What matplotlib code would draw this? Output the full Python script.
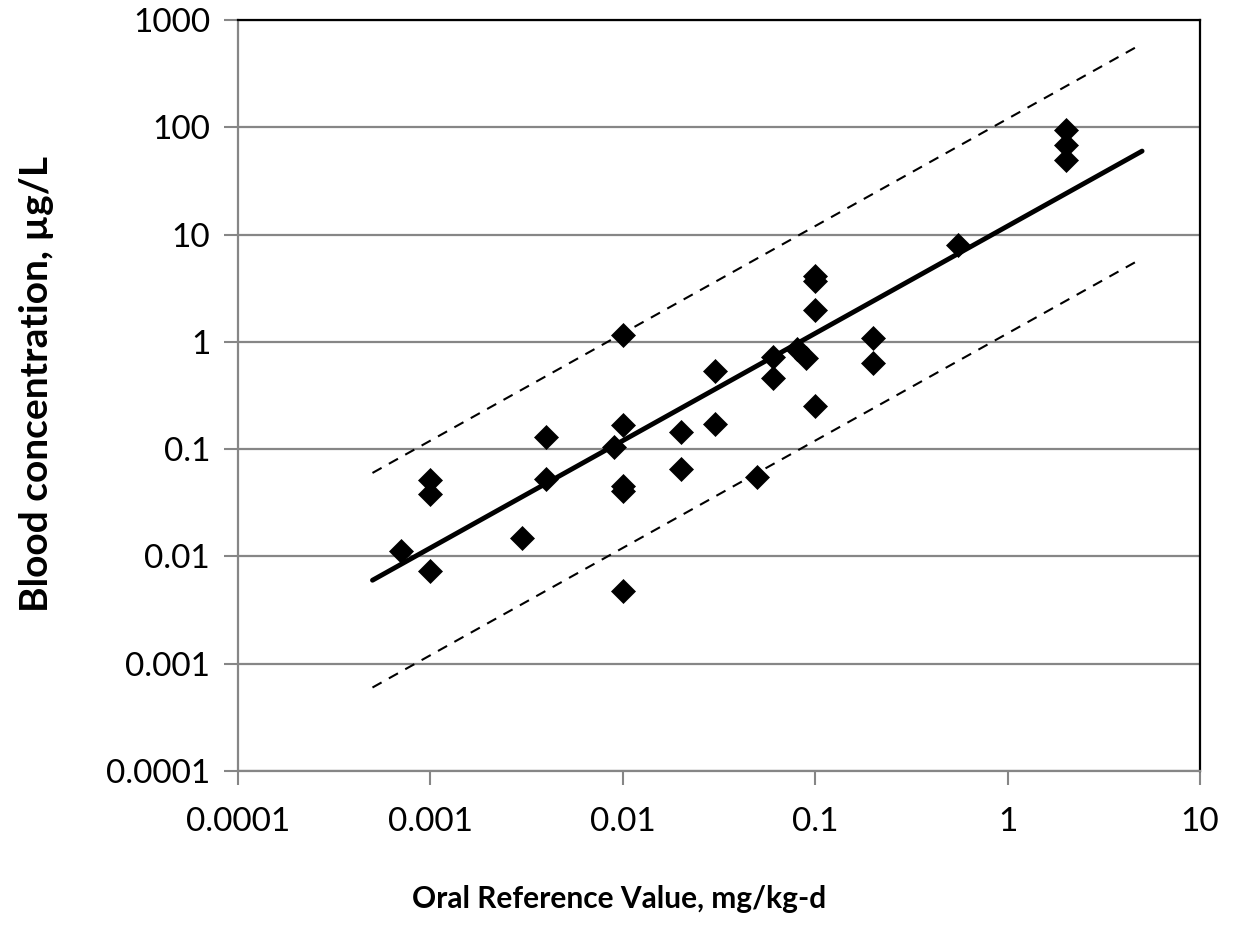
import matplotlib
matplotlib.use("Agg")
import matplotlib.pyplot as plt
from matplotlib.ticker import FixedLocator, FixedFormatter, NullLocator

# Data
rfd = [0.0007, 0.001, 0.001, 0.001, 0.003, 0.004, 0.004, 0.009,
       0.01, 0.01, 0.01, 0.01, 0.01, 0.02, 0.02, 0.03, 0.03, 0.05,
       0.06, 0.06, 0.08, 0.09, 0.1, 0.1, 0.1, 0.1, 0.2, 0.2, 0.55,
       2.0, 2.0, 2.0]
blood = [0.0112, 0.052, 0.038, 0.0073, 0.0148, 0.13, 0.053, 0.105,
         1.16, 0.168, 0.045, 0.041, 0.0048, 0.146, 0.066, 0.535, 0.172, 0.0555,
         0.73, 0.465, 0.85, 0.70, 4.1, 3.7, 2.0, 0.253, 1.08, 0.64, 8.0,
         94.0, 68.0, 50.0]

fit_x = [0.0005, 5]
fit_y = [0.006, 60]
upper_y = [0.06, 600]
lower_y = [0.0006, 6]

xticks = [0.0001, 0.001, 0.01, 0.1, 1, 10]
xtick_labels = ["0.0001", "0.001", "0.01", "0.1", "1", "10"]
yticks = [0.0001, 0.001, 0.01, 0.1, 1, 10, 100, 1000]
ytick_labels = ["0.0001", "0.001", "0.01", "0.1", "1", "10", "100", "1000"]

plt.rcParams['font.family'] = ['Lato', 'DejaVu Sans']

fig = plt.figure(figsize=(12.37, 9.40), dpi=100)
ax = fig.add_axes([238/1237, 1-771/940, (1200-238)/1237, (771-20)/940])

gray = '#868686'
ax.set_xscale('log')
ax.set_yscale('log')
ax.set_xlim(0.0001, 10)
ax.set_ylim(0.0001, 1000)

ax.yaxis.grid(True, color=gray, linewidth=1.6)
ax.set_axisbelow(True)

ax.plot(fit_x, fit_y, color='black', linewidth=3.5, solid_capstyle='round', zorder=3)
ax.plot(fit_x, upper_y, color='black', linewidth=1.5, dashes=(5, 4), zorder=3)
ax.plot(fit_x, lower_y, color='black', linewidth=1.5, dashes=(5, 4), zorder=3)
ax.plot(rfd, blood, linestyle='none', marker='D', markersize=12.5,
        markerfacecolor='black', markeredgecolor='black', markeredgewidth=0.5, zorder=4)

ax.xaxis.set_major_locator(FixedLocator(xticks))
ax.xaxis.set_major_formatter(FixedFormatter(xtick_labels))
ax.yaxis.set_major_locator(FixedLocator(yticks))
ax.yaxis.set_major_formatter(FixedFormatter(ytick_labels))
ax.xaxis.set_minor_locator(NullLocator())
ax.yaxis.set_minor_locator(NullLocator())

ax.tick_params(axis='both', which='major', direction='out', length=10, width=1.5,
               color=gray, labelsize=24, labelcolor='black')
ax.tick_params(axis='x', pad=16)
ax.tick_params(axis='y', pad=10)

for s in ['left', 'bottom']:
    ax.spines[s].set_color(gray)
    ax.spines[s].set_linewidth(1.6)
for s in ['top', 'right']:
    ax.spines[s].set_color('black')
    ax.spines[s].set_linewidth(1.6)

ax.set_xlabel('Oral Reference Value, mg/kg-d', fontsize=21.5, fontweight='bold')
ax.set_ylabel('Blood concentration, µg/L', fontsize=28, fontweight='bold')
ax.xaxis.set_label_coords((619-238)/962, (771-885)/751)
ax.yaxis.set_label_coords((54-238)/962, (771-384)/751)

fig.savefig('out.png', dpi=100, facecolor='white')
